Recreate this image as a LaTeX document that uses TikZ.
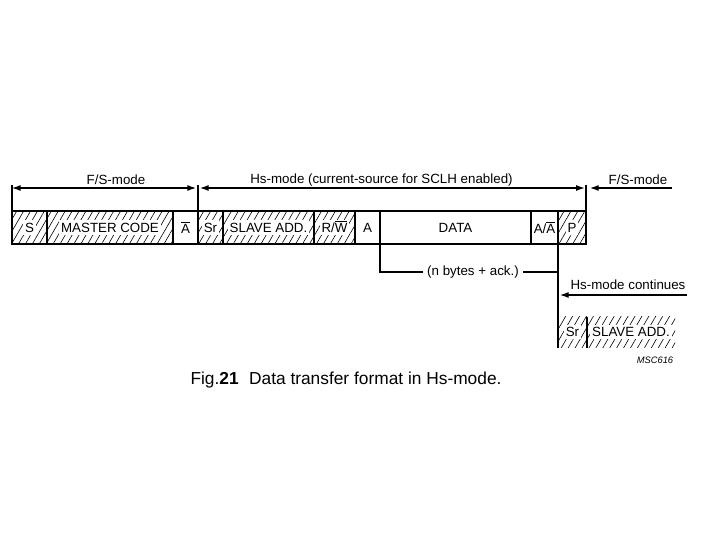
\documentclass[tikz,border=0pt]{standalone}
\usepackage{fontspec}
\setmainfont{Liberation Sans}
\usetikzlibrary{arrows.meta, patterns.meta, positioning}
\newcommand{\ovl}[1]{$\overline{\hbox{#1}}$}

\tikzset{
  span/.style={minimum width=#1*0.75pt},
  field/.style={draw, line width=0.8pt, minimum height=24.75pt, inner sep=0pt, outer sep=0pt, anchor=west, font=\fontsize{10}{12}\selectfont},
  hatched/.style={field, pattern={Lines[angle=60, distance=4.5pt, line width=0.45pt]}},
  tag/.style={fill=white, inner sep=1.5pt, text height=7.3pt, text depth=0.3pt, font=\fontsize{10}{12}\selectfont},
  mode/.style={font=\fontsize{10}{12}\selectfont, inner sep=1pt},
  tick/.style={line width=0.8pt},
  dim/.style={line width=0.8pt, {Latex[length=6.5pt,width=4.5pt]}-{Latex[length=6.5pt,width=4.5pt]}},
  lefttip/.style={line width=0.8pt, {Latex[length=6.5pt,width=4.5pt]}-},
}

\begin{document}
\begin{tikzpicture}[x=0.75pt, y=-0.75pt]
\useasboundingbox (0,0) rectangle (720,540);
% frame row
\node[hatched, span=35, label={[tag]center:S}] (s) at (12,227.5) {};
\node[hatched, span=126, right=0pt of s, label={[tag]center:MASTER CODE}] (mc) {};
\node[field, span=25, right=0pt of mc] (ab) {\ovl{A}};
\node[hatched, span=25, right=0pt of ab, label={[tag]center:Sr}] (sr) {};
\node[hatched, span=91, right=0pt of sr, label={[tag]center:SLAVE ADD.}] (sa) {};
\node[hatched, span=41, right=0pt of sa, label={[tag]center:R/\ovl{W}}] (rw) {};
\node[field, span=25, right=0pt of rw] (a) {A};
\node[field, span=151, right=0pt of a] (data) {DATA};
\node[field, span=27, right=0pt of data] (aa) {A/\ovl{A}};
\node[hatched, span=28, right=0pt of aa, label={[tag]center:P}] (p) {};
% mode arrows
\coordinate (top) at (0,185);
\coordinate (arw) at (0,188);
\coordinate (fsend) at (672,188);
\draw[tick] (s.north west) -- (s.north west |- top);
\draw[tick] (sr.south west) -- (sr.south west |- top);
\draw[tick] (p.north east) -- (p.north east |- top);
\draw[dim, shorten >=1.5pt] (s.north west |- arw) -- (sr.north west |- arw);
\draw[dim, shorten <=1.5pt, shorten >=1pt] (sr.north west |- arw) -- (p.north east |- arw);
\draw[lefttip, shorten <=3pt] (p.north east |- arw) -- (fsend);
\node[mode] (fs1) at (116,180) {F/S-mode};
\node[mode] (hs) at (381.5,180) {Hs-mode (current-source for SCLH enabled)};
\node[mode] (fs2) at (638,180) {F/S-mode};
% repeated bytes
\node[mode, inner sep=3pt] (nb) at (473,272) {(n bytes + ack.)};
\draw[tick] (nb.west) -| (a.south east);
\draw[tick] (nb.east) -- (nb.east -| aa.south east);
% continuation
\node[hatched, draw=none, span=29, minimum height=23.25pt, label={[tag]center:Sr}] (sr2) at (558,332) {};
\node[hatched, draw=none, span=88, minimum height=23.25pt, right=0pt of sr2, label={[tag]center:SLAVE ADD.}] (sa2) {};
\draw[tick] (aa.south east) -- (sr2.south west);
\draw[tick] (sr2.north east) -- (sr2.south east);
\node[mode] (hc) at (628,285) {Hs-mode continues};
\coordinate (hcend) at (687,295);
\draw[lefttip, shorten <=1.5pt] (hcend -| sr2.west) -- (hcend);
\node[font=\fontsize{7}{8}\selectfont\itshape] (msc) at (655,360) {MSC616};
\node[font=\fontsize{13}{15}\selectfont] (cap) at (346,380) {Fig.\textbf{21}\hspace{0.6em}Data transfer format in Hs-mode.};
\end{tikzpicture}
\end{document}
